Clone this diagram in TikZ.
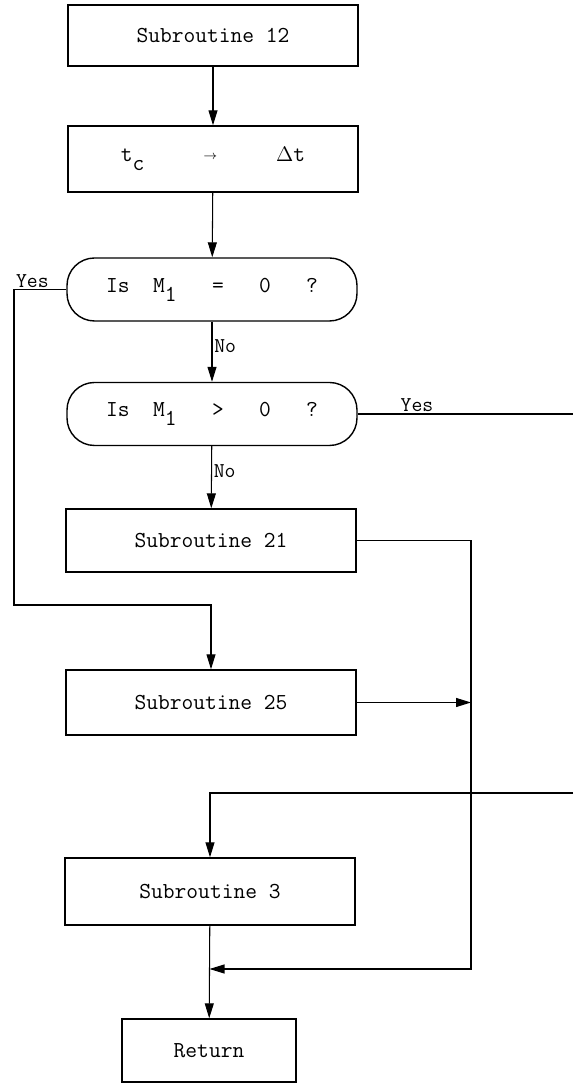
\documentclass[tikz,border=0pt]{standalone}
\usetikzlibrary{arrows.meta}
\newcommand{\lowsub}[1]{\raisebox{-0.9ex}{#1}}
\newcommand{\smallto}{\raisebox{0.2ex}{\fontsize{7}{7}\selectfont$\rightarrow$}}
\begin{document}
\begin{tikzpicture}[
  font=\fontsize{13}{15}\selectfont\ttfamily,
  box/.style={rectangle, draw, line width=0.8pt, minimum height=#1,
              minimum width=5.8cm, inner sep=0pt},
  box/.default={1.26cm},
  test/.style={rectangle, draw, line width=0.8pt, rounded corners=0.55cm,
               minimum height=1.26cm, minimum width=5.8cm, inner sep=0pt},
  arr/.style={-{Triangle[length=0.3cm, width=0.18cm]}, line width=0.6pt},
  lin/.style={line width=0.6pt},
  lbl/.style={font=\fontsize{12}{14}\selectfont\ttfamily, inner sep=1pt}
]
  \useasboundingbox (0,0) rectangle (11.46,21.66);

  % Main column
  \node[box=1.22cm] (sub12) at (4.26, 20.95) {Subroutine 12};
  \node[box=1.32cm] (assign) at (4.26, 18.48)
    {t\lowsub{c}~~~~~\smallto~~~~~$\Delta$t};
  \node[test] (test1) at (4.24, 15.87) {Is~~M\lowsub{1}~~~=~~~0~~~?};
  \node[test] (test2) at (4.24, 13.38) {Is~~M\lowsub{1}~~~>~~~0~~~?};
  \node[box] (sub21) at (4.22, 10.85) {Subroutine 21};
  \node[box=1.3cm] (sub25) at (4.22, 7.61) {Subroutine 25};
  \node[box=1.34cm] (sub3) at (4.20, 3.83) {Subroutine 3};
  \node[box, minimum width=3.48cm] (ret) at (4.18, 0.65) {Return};

  \draw[arr] (sub12) -- (assign);
  \draw[arr] (assign) -- (test1);
  \draw[arr] (test1) -- (test2) node[lbl, pos=0.4, right] {No};
  \draw[arr] (test2) -- (sub21) node[lbl, pos=0.4, right] {No};
  \draw[arr] (sub3) -- (ret);

  % Yes branch of first test
  \coordinate (yesL) at (0.28, 9.56);
  \draw[arr] (test1.west) -| (yesL) -| (sub25.north);
  \node[lbl, above right] at (0.28, 15.87) {Yes};

  % Yes branch of second test (off page)
  \coordinate (offA) at (11.46, 13.38);
  \draw[lin] (test2.east) -- (offA);
  \node[lbl, above] at (8.34, 13.38) {Yes};

  % Return from off page
  \coordinate (offB) at (11.46, 5.80);
  \draw[arr] (offB) -| (sub3.north);

  % Collector line on the right
  \coordinate (bus) at (9.42, 2.28);
  \coordinate (merge) at (4.19, 2.28);
  \draw[arr] (sub21.east) -| (bus) -- (merge);
  \draw[arr] (sub25.east) -- (sub25.east -| bus);
\end{tikzpicture}
\end{document}
